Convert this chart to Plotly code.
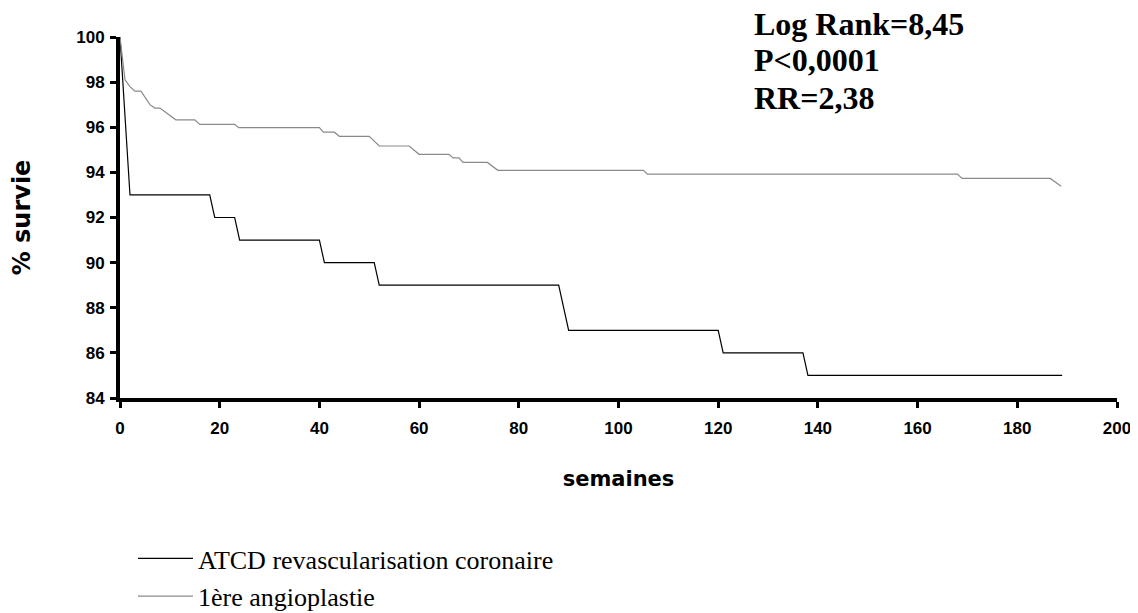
import plotly.graph_objects as go

# ---- data ----
weeks_atcd = [0, 2, 18, 19, 23, 24, 40, 41, 51, 52, 88, 90, 120, 121, 137, 138, 189]
surv_atcd = [100, 93, 93, 92, 92, 91, 91, 90, 90, 89, 89, 87, 87, 86, 86, 85, 85]

weeks_angio = [0, 1, 2, 3, 4.2, 6, 7, 8, 11.2, 15, 16, 23, 23.8, 40, 40.8, 43, 44, 50,
               52, 58, 60, 66, 66.8, 68, 68.8, 73.7, 75.8, 105, 105.8, 168, 168.9,
               186.6, 188.8]
surv_angio = [100, 98.1, 97.8, 97.6, 97.6, 97.0, 96.85, 96.85, 96.33, 96.33, 96.13,
              96.13, 95.98, 95.98, 95.78, 95.78, 95.6, 95.6, 95.17, 95.17, 94.8, 94.8,
              94.64, 94.64, 94.44, 94.44, 94.09, 94.09, 93.92, 93.92, 93.73, 93.73, 93.38]

series_names = ["ATCD revascularisation coronaire", "1ère angioplastie"]
x_ticks = [0, 20, 40, 60, 80, 100, 120, 140, 160, 180, 200]
y_ticks = [84, 86, 88, 90, 92, 94, 96, 98, 100]
stats_lines = ["Log Rank=8,45", "P<0,0001", "RR=2,38"]

# The page body has an 8px margin, so the figure is drawn 8px in from the window corner.
OFF = 8
WIN_W, WIN_H = 1138, 613
W, H = WIN_W - OFF, WIN_H - OFF
# plot area in window pixels: x 120..1117, y 37..398
ML, MR, MT, MB = 120 - OFF, WIN_W - 1117, 37 - OFF, WIN_H - 398

fig = go.Figure()
fig.add_trace(go.Scatter(x=weeks_atcd, y=surv_atcd, mode="lines", name=series_names[0],
                         legendgroup="a", line=dict(color="#000000", width=1.2)))
fig.add_trace(go.Scatter(x=weeks_angio, y=surv_angio, mode="lines", name=series_names[1],
                         legendgroup="b", line=dict(color="#8a8a8a", width=1.2)))

tick_font = dict(family="Liberation Sans, Arial, sans-serif", size=17, color="black", weight="bold")
title_font = dict(family="DejaVu Sans, sans-serif", size=21, color="black", weight="bold")

fig.update_xaxes(range=[0, 200], tickvals=x_ticks, ticktext=[str(v) for v in x_ticks],
                 showline=True, linewidth=4, linecolor="black", ticks="outside",
                 ticklen=6, tickwidth=3, tickcolor="black", showgrid=False, zeroline=False,
                 tickfont=tick_font, ticklabelstandoff=6, automargin=False,
                 title=dict(text="semaines", font=title_font, standoff=35))
fig.update_yaxes(range=[84, 100], tickvals=y_ticks, ticktext=[str(v) for v in y_ticks],
                 showline=True, linewidth=4, linecolor="black", ticks="outside",
                 ticklen=6, tickwidth=3, tickcolor="black", showgrid=False, zeroline=False,
                 tickfont=tick_font, ticklabelstandoff=2, automargin=False,
                 title=dict(text="% survie", font=dict(title_font, size=24), standoff=40))

plot_h = H - MT - MB
plot_w = W - ML - MR
def py(ypx_win):
    return (WIN_H - MB - ypx_win) / plot_h
def px(xpx_win):
    return (xpx_win - 120) / plot_w

for txt, ypix in zip(stats_lines, [24, 60, 98]):
    fig.add_annotation(text=txt, xref="paper", yref="paper", x=px(752), y=py(ypix),
                       xanchor="left", yanchor="middle", showarrow=False,
                       font=dict(family="Liberation Serif, Times New Roman, serif", size=32,
                                 color="black", weight="bold"))

fig.update_layout(
    width=W, height=H,
    margin=dict(l=ML, r=MR, t=MT, b=MB, autoexpand=False),
    paper_bgcolor="white", plot_bgcolor="white",
    showlegend=True,
    legend=dict(x=px(133), y=py(535), xanchor="left", yanchor="top",
                font=dict(family="Liberation Serif, Times New Roman, serif", size=26, color="black"),
                bgcolor="rgba(0,0,0,0)", traceorder="grouped", tracegroupgap=1, itemwidth=55),
)

fig.write_html("out.html")
